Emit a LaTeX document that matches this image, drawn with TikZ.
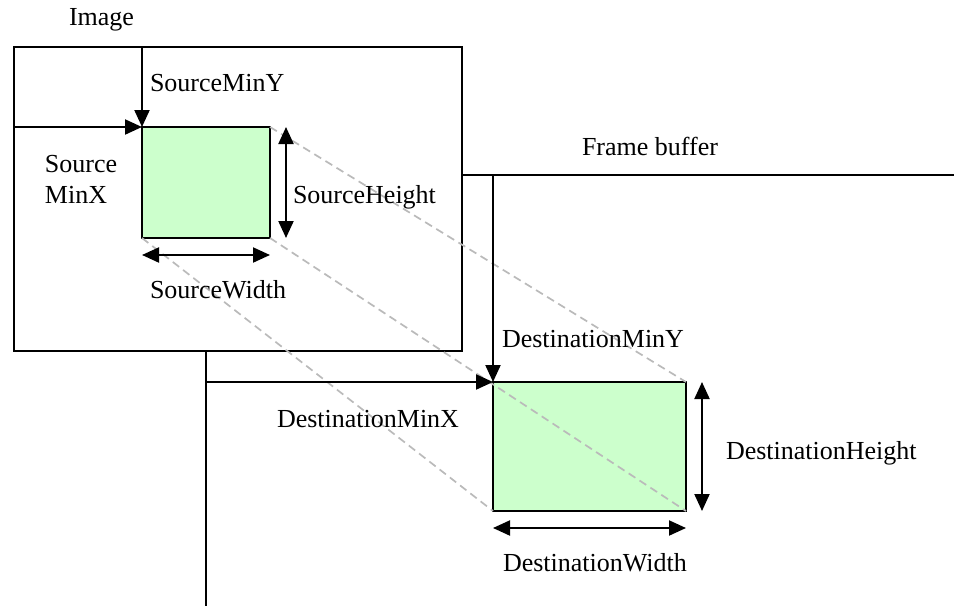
\documentclass[tikz,border=0pt]{standalone}
\usepackage{fontspec}
\setmainfont{Liberation Serif}
\usetikzlibrary{arrows.meta}
\begin{document}
\begin{tikzpicture}[x=1pt,y=-1pt,
  every node/.style={inner sep=0pt,outer sep=0pt},
  lbl/.style={anchor=base west,font=\fontsize{26}{30}\selectfont},
  edge/.style={line width=2.1pt},
  region/.style={draw,line width=2.1pt,fill=green!20,anchor=north west},
  tip/.style={-{Triangle[length=17pt,width=15pt]}},
  dim/.style={{Triangle[length=17pt,width=15pt]}-{Triangle[length=17pt,width=15pt]}},
  proj/.style={draw=black!27,line width=1.7pt,dash pattern=on 8pt off 5pt}]
\useasboundingbox (0,0) rectangle (954,606);

% frame buffer: only its top and left edges reach into view
\coordinate (fb) at (206,175);
\coordinate (fbR) at (954,175);
\coordinate (fbB) at (206,606);
\draw[edge] (fbR) -- (fb) -- (fbB);

% source image, painted over the frame buffer corner
\node[draw,line width=2.1pt,fill=white,anchor=north west,
      minimum width=448pt,minimum height=304pt] (img) at (14,47) {};
\node[lbl] (imgL) at (69,25) {Image};

% source and destination rectangles
\node[region,minimum width=128pt,minimum height=111pt] (src) at (142,127) {};
\node[region,minimum width=193pt,minimum height=129pt] (dst) at (493,382) {};

% projection of the source corners onto the destination
\draw[proj] (src.north east) -- (dst.north east);
\draw[proj] (src.south east) -- (dst.south east);
\draw[proj] (src.south west) -- (dst.south west);

% source offsets and size
\draw[edge,tip] (src.north west |- img.north) -- (src.north west);
\draw[edge,tip] (img.west |- src.north west) -- (src.north west);
\draw[edge,dim] ([xshift=16pt]src.north east) -- ([xshift=16pt]src.south east);
\draw[edge,dim] ([yshift=-17pt]src.south west) -- ([yshift=-17pt]src.south east);

\node[lbl] (sminy) at (150,91) {SourceMinY};
\node[lbl] (sminx1) at (45,172) {Source};
\node[lbl] (sminx2) at (45,203) {MinX};
\node[lbl] (sh) at (293,203) {SourceHeight};
\node[lbl] (sw) at (150,298) {SourceWidth};

% destination offsets and size
\node[lbl] (fbL) at (582,155) {Frame buffer};
\draw[edge,tip] (dst.north west |- fb) -- (dst.north west);
\draw[edge,tip] (fb |- dst.north west) -- (dst.north west);
\draw[edge,dim] ([xshift=16pt]dst.north east) -- ([xshift=16pt]dst.south east);
\draw[edge,dim] ([yshift=-17pt]dst.south west) -- ([yshift=-17pt]dst.south east);

\node[lbl] (dminy) at (502,347) {DestinationMinY};
\node[lbl] (dminx) at (277,427) {DestinationMinX};
\node[lbl] (dh) at (726,459) {DestinationHeight};
\node[lbl] (dw) at (503,571) {DestinationWidth};
\end{tikzpicture}
\end{document}
